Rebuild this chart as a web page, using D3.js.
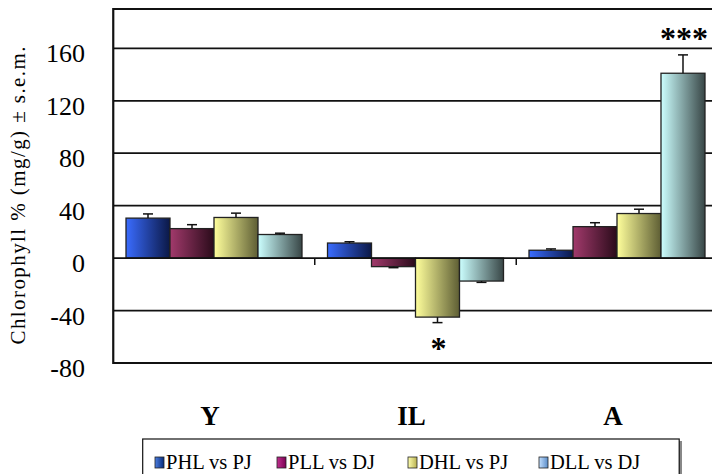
<!DOCTYPE html>
<html>
<head>
<meta charset="utf-8">
<script src="https://cdnjs.cloudflare.com/ajax/libs/d3/7.8.5/d3.min.js"></script>
<style>
  html, body { margin: 0; padding: 0; background: #fff; }
  svg { display: block; }
  svg text { font-family: "Liberation Serif", "Times New Roman", serif; }
</style>
</head>
<body>
<svg id="chart" width="712" height="474"></svg>
<script>
// Chlorophyll change per stage, four comparisons, mean and s.e.m.
const stages = ["Y", "IL", "A"];
const comparisons = ["PHL vs PJ", "PLL vs DJ", "DHL vs PJ", "DLL vs DJ"];
const meanPHL = [30.5, 11.5, 6];
const meanPLL = [22.5, -6.5, 24];
const meanDHL = [31, -45, 34];
const meanDLL = [18, -17.5, 141];
const semPHL = [3.2, 1, 1];
const semPLL = [3, 0.8, 3];
const semDHL = [3.3, 4.2, 3.3];
const semDLL = [1, 1, 14];
const yTicks = [-80, -40, 0, 40, 80, 120, 160];
// significance marks: [stage, comparison, label]
const marks = [["IL", "DHL vs PJ", "*"], ["A", "DLL vs DJ", "***"]];

const means = [meanPHL, meanPLL, meanDHL, meanDLL];
const sems = [semPHL, semPLL, semDHL, semDLL];

// bar fills: light left edge to dark right edge
const barGrad = [["#3a6cff", "#0b1846"], ["#a23a6c", "#2a0b1a"], ["#ffff9c", "#5e5e34"], ["#ccffff", "#384646"]];
const keyGrad = [["#4d7fe0", "#062a7a"], ["#c0308f", "#7a0050"], ["#ffffb0", "#b8b050"], ["#c4e0ff", "#5a8cc8"]];

const svg = d3.select("#chart");
const plotL = 113.25, plotR = 717.75, plotT = 9, plotB = 363;

const x0 = d3.scaleBand().domain(stages).range([plotL, plotR])
  .paddingInner(0.1266).paddingOuter(0.0633);
const x1 = d3.scaleBand().domain(comparisons).range([0, x0.bandwidth()]);
const y = d3.scaleLinear().domain([-80, 190]).range([plotB, plotT]);

const defs = svg.append("defs");
function addGrad(id, c) {
  const g = defs.append("linearGradient").attr("id", id)
    .attr("x1", "0%").attr("x2", "100%").attr("y1", "0%").attr("y2", "0%");
  g.append("stop").attr("offset", "0%").attr("stop-color", c[0]);
  g.append("stop").attr("offset", "100%").attr("stop-color", c[1]);
}
barGrad.forEach((c, i) => addGrad("bg" + i, c));
keyGrad.forEach((c, i) => addGrad("kg" + i, c));

// horizontal gridlines
svg.append("g").selectAll("line").data(yTicks.filter(t => t !== -80 && t !== 0)).join("line")
  .attr("x1", plotL).attr("x2", 712)
  .attr("y1", d => y(d)).attr("y2", d => y(d))
  .attr("stroke", "#111").attr("stroke-width", 1.8);

// plot frame
svg.append("line").attr("x1", plotL).attr("x2", 712).attr("y1", plotT).attr("y2", plotT)
  .attr("stroke", "#111").attr("stroke-width", 2);
svg.append("line").attr("x1", plotL).attr("x2", 712).attr("y1", plotB).attr("y2", plotB)
  .attr("stroke", "#111").attr("stroke-width", 2.2);
svg.append("line").attr("x1", plotL).attr("x2", plotL).attr("y1", plotT - 1).attr("y2", plotB + 1)
  .attr("stroke", "#111").attr("stroke-width", 2.2);

// y tick labels
svg.append("g").selectAll("text").data(yTicks).join("text")
  .attr("x", 85).attr("y", d => y(d) + 14)
  .attr("text-anchor", "end")
  .style("font-size", "26px")
  .text(d => d);

// y axis title
svg.append("text")
  .attr("transform", `translate(25,${(46 + 345) / 2}) rotate(-90)`)
  .attr("text-anchor", "middle")
  .style("font-size", "21px")
  .attr("textLength", 298).attr("lengthAdjust", "spacing")
  .text("Chlorophyll %  (mg/g) ± s.e.m.");

// bars
const groups = svg.append("g").selectAll("g").data(stages).join("g")
  .attr("transform", d => `translate(${x0(d)},0)`);

const barData = si => comparisons.map((c, ci) => ({ c, ci, v: means[ci][si], e: sems[ci][si] }));

groups.each(function (s, si) {
  const g = d3.select(this);
  const data = barData(si);
  g.selectAll("rect").data(data).join("rect")
    .attr("x", d => x1(d.c))
    .attr("width", x1.bandwidth())
    .attr("y", d => y(Math.max(0, d.v)))
    .attr("height", d => Math.abs(y(d.v) - y(0)))
    .attr("fill", d => `url(#bg${d.ci})`)
    .attr("stroke", "#222").attr("stroke-width", 1.3);
  // one-sided error bars
  const eb = g.selectAll("g.err").data(data).join("g").attr("class", "err");
  const cx = d => x1(d.c) + x1.bandwidth() / 2;
  const ey = d => y(d.v + Math.sign(d.v) * d.e);
  eb.append("line")
    .attr("x1", cx).attr("x2", cx)
    .attr("y1", d => y(d.v)).attr("y2", ey)
    .attr("stroke", "#111").attr("stroke-width", 1.5);
  eb.append("line")
    .attr("x1", d => cx(d) - 5).attr("x2", d => cx(d) + 5)
    .attr("y1", ey).attr("y2", ey)
    .attr("stroke", "#111").attr("stroke-width", 1.5);
});

// zero axis with category separators
svg.append("line").attr("x1", plotL).attr("x2", 712).attr("y1", y(0)).attr("y2", y(0))
  .attr("stroke", "#111").attr("stroke-width", 1.8);
svg.append("g").selectAll("line").data(stages.slice(1)).join("line")
  .attr("x1", d => x0(d) - x0.step() * 0.0633).attr("x2", d => x0(d) - x0.step() * 0.0633)
  .attr("y1", y(0)).attr("y2", y(0) + 7)
  .attr("stroke", "#111").attr("stroke-width", 1.5);

// category labels
svg.append("g").selectAll("text").data(stages).join("text")
  .attr("x", d => x0(d) + x0.bandwidth() / 2 - 4)
  .attr("y", 425)
  .attr("text-anchor", "middle")
  .style("font-size", "27px").style("font-weight", "bold")
  .text(d => d);

// significance marks
marks.forEach(([s, c, label]) => {
  const si = stages.indexOf(s), ci = comparisons.indexOf(c);
  const v = means[ci][si], e = sems[ci][si];
  const end = y(v + Math.sign(v) * e);
  svg.append("text")
    .attr("x", x0(s) + x1(c) + x1.bandwidth() / 2 + 1)
    .attr("y", v < 0 ? end + 36 : end - 5.5)
    .attr("text-anchor", "middle")
    .style("font-size", "32px").style("font-weight", "bold")
    .text(label);
});

// legend
const lg = svg.append("g");
lg.append("rect").attr("x", 145).attr("y", 441).attr("width", 537).attr("height", 40)
  .attr("fill", "#888");
lg.append("rect").attr("x", 142.7).attr("y", 439).attr("width", 536.5).attr("height", 40)
  .attr("fill", "#fff").attr("stroke", "#111").attr("stroke-width", 1.2);
const keyX = [155, 277, 408, 539];
const item = lg.selectAll("g.key").data(comparisons).join("g").attr("class", "key")
  .attr("transform", (d, i) => `translate(${keyX[i]},0)`);
item.append("rect").attr("x", 0).attr("y", 457).attr("width", 9).attr("height", 11)
  .attr("fill", (d, i) => `url(#kg${i})`).attr("stroke", "#222").attr("stroke-width", 0.8);
item.append("text").attr("x", 11).attr("y", 469).style("font-size", "20.5px").text(d => d);
</script>
</body>
</html>
